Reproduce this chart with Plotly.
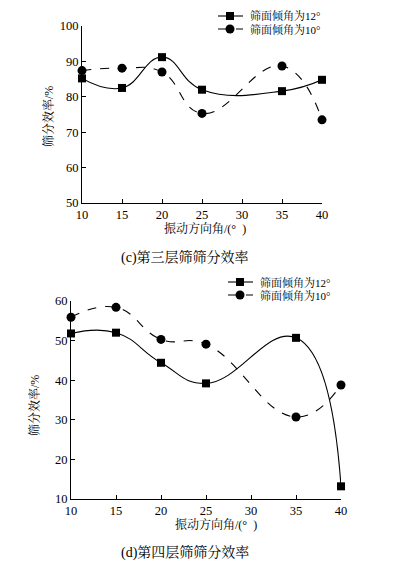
import plotly.graph_objects as go

angles = [10, 15, 20, 25, 35, 40]
layer3_12 = [85.2, 82.5, 91.2, 82.0, 81.6, 84.8]
layer3_10 = [87.4, 88.1, 87.0, 75.3, 88.7, 73.5]
layer4_12 = [51.8, 52.0, 44.4, 39.2, 50.7, 13.2]
layer4_10 = [55.9, 58.4, 50.3, 49.1, 30.7, 38.8]
xticks = [10, 15, 20, 25, 30, 35, 40]
yticks3 = [50, 60, 70, 80, 90, 100]
yticks4 = [10, 20, 30, 40, 50, 60]
name12 = "筛面倾角为12°"
name10 = "筛面倾角为10°"
cap3 = "(c)第三层筛筛分效率"
cap4 = "(d)第四层筛筛分效率"
xtitle = "振动方向角/(°  )"
ytitle = "筛分效率/%"

W, H = 393, 570
FONT = "Liberation Serif, Times New Roman, Noto Serif CJK SC, Noto Sans CJK SC, serif"

def px(x):
    return x / W

def py(y):
    return 1 - y / H

fig = go.Figure()

def add_series(xv, yv, xa, ya, symbol, size, dash):
    fig.add_trace(go.Scatter(
        x=xv, y=yv, xaxis=xa, yaxis=ya, mode="lines+markers", cliponaxis=False,
        line=dict(color="black", width=1.1, shape="spline", smoothing=1.3, dash=dash),
        marker=dict(symbol=symbol, size=size, color="black"),
        showlegend=False, hoverinfo="skip"))

add_series(angles, layer3_12, "x", "y", "square", 8, "solid")
add_series(angles, layer3_10, "x", "y", "circle", 9, "dash")
add_series(angles, layer4_12, "x2", "y2", "square", 8, "solid")
add_series(angles, layer4_10, "x2", "y2", "circle", 9, "dash")

axis_common = dict(showline=True, linecolor="black", linewidth=1, ticks="inside",
                   ticklen=4, tickcolor="black", showgrid=False, zeroline=False,
                   automargin=False,
                   tickfont=dict(family=FONT, size=12.5, color="black"))

fig.update_layout(
    width=W, height=H, margin=dict(l=0, r=0, t=0, b=0),
    paper_bgcolor="white", plot_bgcolor="white", showlegend=False,
    xaxis=dict(domain=[px(82), px(322)], range=[10, 40], tickvals=xticks, anchor="y", **axis_common),
    yaxis=dict(domain=[py(203), py(26)], range=[50, 100], tickvals=yticks3, anchor="x", **axis_common),
    xaxis2=dict(domain=[px(71), px(341)], range=[10, 40], tickvals=xticks, anchor="y2", **axis_common),
    yaxis2=dict(domain=[py(499), py(301)], range=[10, 60], tickvals=yticks4, anchor="x2", **axis_common),
)

def text(x, y, s, size, angle=0, xanchor="center"):
    fig.add_annotation(x=px(x), y=py(y), xref="paper", yref="paper", text=s,
                       showarrow=False, xanchor=xanchor, yanchor="middle", textangle=angle,
                       font=dict(family=FONT, size=size, color="black"))

# axis titles and captions
text(205, 228, xtitle, 12)
text(216, 524, xtitle, 12)
text(49, 117, ytitle, 12, angle=-90)
text(34, 406, ytitle, 12, angle=-90)
text(185, 258, cap3, 14)
text(185, 553, cap4, 14)

def legend(x0, y1, y2):
    fig.add_shape(type="line", xref="paper", yref="paper", x0=px(x0), x1=px(x0 + 25),
                  y0=py(y1), y1=py(y1), line=dict(color="black", width=1.1))
    fig.add_shape(type="rect", xref="paper", yref="paper", x0=px(x0 + 8), x1=px(x0 + 16),
                  y0=py(y1 + 4), y1=py(y1 - 4), fillcolor="black", line=dict(width=0))
    fig.add_shape(type="line", xref="paper", yref="paper", x0=px(x0), x1=px(x0 + 25),
                  y0=py(y2), y1=py(y2), line=dict(color="black", width=1.1, dash="dash"))
    fig.add_shape(type="circle", xref="paper", yref="paper", x0=px(x0 + 7.5), x1=px(x0 + 16.5),
                  y0=py(y2 + 4.5), y1=py(y2 - 4.5), fillcolor="black", line=dict(width=0))
    text(x0 + 30, y1, name12, 11, xanchor="left")
    text(x0 + 30, y2, name10, 11, xanchor="left")

legend(218, 16, 29)
legend(228, 282, 295)

fig.write_html("out.html", config={"displayModeBar": False},
               post_script="document.body.style.margin='0';document.body.style.padding='0';")
